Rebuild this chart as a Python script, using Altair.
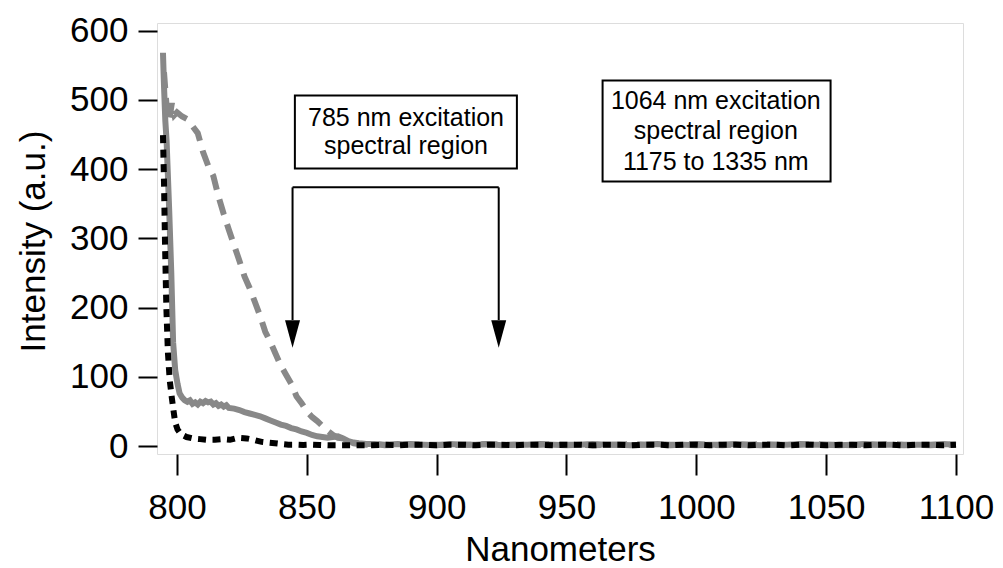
import altair as alt
import pandas as pd

# ---------------- data ----------------
# solid gray trace
solid_nm = [794.6, 795.0, 795.5, 796.0, 797.0, 797.8, 798.5, 799.3, 800.2, 801,
            802, 803, 804, 805, 806, 807, 808, 809, 810, 811,
            812, 813, 814, 815, 816, 817, 818, 819, 820,
            822, 824, 826, 828, 830, 832, 834, 836, 838, 840,
            842, 844, 846, 848, 850, 852, 854, 856, 858, 860,
            862, 864, 866, 868, 870, 873, 876]
solid_val = [568, 520, 470, 440, 340, 250, 150, 110, 90, 76,
             70, 66, 64, 66, 61, 63, 60, 64, 62, 65,
             63, 64, 60, 62, 58, 60, 57, 59, 55,
             54, 52, 49, 47, 45, 43, 40, 37, 34, 31,
             29, 26, 24, 21, 19, 16, 14, 13, 12, 13,
             14, 11, 7, 5, 4, 3, 3]

# dashed gray trace
dashed_nm = [795.0, 796.0, 797.0, 798.0, 799.0, 800,
             802, 804, 806, 808, 810, 812, 814, 816, 818, 820,
             822, 824, 826, 828, 830, 832, 834, 836, 838, 840,
             842, 844, 846, 848, 850, 852, 854, 856, 858, 860,
             862, 864, 866, 868, 870, 873, 876]
dashed_val = [540, 490, 470, 495, 478, 482,
              476, 472, 462, 452, 425, 405, 390, 360, 335, 312,
              290, 268, 245, 228, 208, 188, 165, 150, 133, 116,
              103, 90, 72, 62, 50, 42, 36, 29, 22, 16,
              12, 11, 7, 4, 3, 2, 3]

# dotted black trace
dotted_nm = [794.6, 795.0, 795.4, 795.9, 796.5, 797.2, 798.0, 798.7, 799.3, 800.2,
             801.5, 803.7, 806, 808.9, 811.5, 814.6, 817.5, 820.4, 823.5, 826.8,
             829.5, 832.6, 835, 837.7, 840, 842.9, 845.5, 848.6, 852, 855,
             858, 862, 866, 870, 875]
dotted_val = [449, 380, 290, 200, 135, 95, 70, 50, 34, 24,
              17, 13, 11, 10, 9, 9, 10, 9, 12, 11,
              9, 6, 5, 4, 3, 2, 2, 1.5, 2, 1.5,
              1, 1, 1, 1, 1]

# flat tails of the three traces (880 ... 1100 nm)
tail_nm = [880, 885, 890, 895, 900, 905, 910, 915, 920, 925,
           930, 935, 940, 945, 950, 955, 960, 965, 970, 975,
           980, 985, 990, 995, 1000, 1005, 1010, 1015, 1020, 1025,
           1030, 1035, 1040, 1045, 1050, 1055, 1060, 1065, 1070, 1075,
           1080, 1085, 1090, 1095, 1100]
solid_tail = [2, 3, 2, 2, 1, 3, 2, 2, 3, 1,
              2, 2, 3, 2, 1, 2, 3, 2, 2, 1,
              2, 3, 2, 2, 1, 2, 2, 3, 2, 1,
              2, 2, 3, 2, 2, 1, 2, 3, 2, 2,
              1, 2, 2, 3, 2]
dashed_tail = [1, 2, 3, 2, 2, 1, 2, 2, 3, 2,
               2, 1, 2, 3, 2, 2, 1, 2, 2, 3,
               2, 2, 1, 2, 3, 2, 1, 2, 2, 3,
               2, 1, 2, 3, 2, 2, 1, 2, 2, 3,
               2, 2, 1, 2, 2]
dotted_tail = [2, 1, 2, 2, 1, 2, 2, 1, 2, 2,
               1, 2, 2, 1, 2, 2, 1, 2, 2, 1,
               2, 2, 1, 2, 2, 1, 2, 2, 1, 2,
               2, 1, 2, 2, 1, 2, 2, 1, 2, 2,
               1, 2, 2, 1, 2]

x_ticks = [800, 850, 900, 950, 1000, 1050, 1100]
y_ticks = [0, 100, 200, 300, 400, 500, 600]

# annotations (data coordinates)
box_x1 = [845.4, 963.9]
box_x2 = [930.9, 1051.7]
box_y1 = [506.3, 528.0]
box_y2 = [401.0, 382.0]

text_lines = ["785 nm excitation", "spectral region",
              "1064 nm excitation", "spectral region", "1175 to 1335 nm"]
text_x = [888.2, 888.2, 1007.5, 1007.5, 1007.5]
text_y = [474, 433, 498, 454.3, 410.5]

arrow_x = [844.5, 923.9]
arrow_bar_y = 373.6
arrow_head_top = 182
arrow_head_mid = 161.9

# ---------------- chart ----------------
FONT = "Liberation Sans"
GRAY = "#888888"

xs = alt.Scale(domain=[792.3, 1102.7], nice=False, zero=False)
ys = alt.Scale(domain=[-11.5, 611], nice=False, zero=False)

x_axis = alt.Axis(values=x_ticks, format="d", title="Nanometers", grid=False, domain=False,
                  tickSize=21, tickWidth=2, tickColor="black",
                  labelFontSize=35, labelColor="black", labelPadding=15,
                  labelFont=FONT, titleFont=FONT, titleFontSize=35,
                  titleFontWeight="normal", titleColor="black",
                  titleBaseline="alphabetic", titleY=106)
y_axis = alt.Axis(values=y_ticks, format="d", title="Intensity (a.u.)", grid=False, domain=False,
                  tickSize=19, tickWidth=2, tickColor="black",
                  labelFontSize=35, labelColor="black", labelPadding=10,
                  labelFont=FONT, titleFont=FONT, titleFontSize=35,
                  titleFontWeight="normal", titleColor="black",
                  titleBaseline="alphabetic", titleAngle=270, titleAlign="center",
                  titleX=-113, titleY=218)


def X(field="nm"):
    return alt.X(f"{field}:Q", scale=xs, axis=x_axis)


def Y(field="v"):
    return alt.Y(f"{field}:Q", scale=ys, axis=y_axis)


df_solid = pd.DataFrame({"nm": solid_nm + tail_nm, "v": solid_val + solid_tail})
df_dashed = pd.DataFrame({"nm": dashed_nm + tail_nm, "v": dashed_val + dashed_tail})
df_dotted = pd.DataFrame({"nm": dotted_nm + tail_nm, "v": dotted_val + dotted_tail})

solid = alt.Chart(df_solid).mark_line(color=GRAY, strokeWidth=6).encode(
    x=X(), y=Y(), order="nm:Q")
dashed = alt.Chart(df_dashed).mark_line(color=GRAY, strokeWidth=6,
                                        strokeDash=[16, 10]).encode(
    x=X(), y=Y(), order="nm:Q")
dotted = alt.Chart(df_dotted).mark_line(color="black", strokeWidth=6,
                                        strokeDash=[8, 6.5]).encode(
    x=X(), y=Y(), order="nm:Q")

df_box = pd.DataFrame({"nm": box_x1, "nm2": box_x2, "v": box_y1, "v2": box_y2})
boxes = alt.Chart(df_box).mark_rect(fill="white", stroke="black", strokeWidth=2).encode(
    x=X(), x2="nm2:Q", y=Y(), y2="v2:Q")

df_text = pd.DataFrame({"nm": text_x, "v": text_y, "label": text_lines})
texts = alt.Chart(df_text).mark_text(font=FONT, fontSize=25, color="black",
                                     align="center", baseline="middle").encode(
    x=X(), y=Y(), text="label:N")

df_rules = pd.DataFrame({
    "nm": [arrow_x[0], arrow_x[0], arrow_x[1]],
    "nm2": [arrow_x[1], arrow_x[0], arrow_x[1]],
    "v": [arrow_bar_y, arrow_bar_y, arrow_bar_y],
    "v2": [arrow_bar_y, arrow_head_top, arrow_head_top],
})
rules = alt.Chart(df_rules).mark_rule(color="black", strokeWidth=2).encode(
    x=X(), x2="nm2:Q", y=Y(), y2="v2:Q")

df_heads = pd.DataFrame({"nm": arrow_x, "v": [arrow_head_mid, arrow_head_mid]})
heads = alt.Chart(df_heads).mark_point(
    shape="M-0.545,-1L0.545,-1L0,1Z", filled=True, fill="black", opacity=1,
    strokeWidth=0, size=756).encode(x=X(), y=Y())

chart = alt.layer(solid, dashed, dotted, rules, heads, boxes, texts).properties(
    width=806, height=431,
    autosize=alt.AutoSizeParams(type="none"),
    padding={"left": 157, "top": 23, "right": 40, "bottom": 114},
).configure_view(stroke="black", strokeWidth=2).configure(background="white")

chart.save("out.html", embed_options={"renderer": "svg", "actions": False})
